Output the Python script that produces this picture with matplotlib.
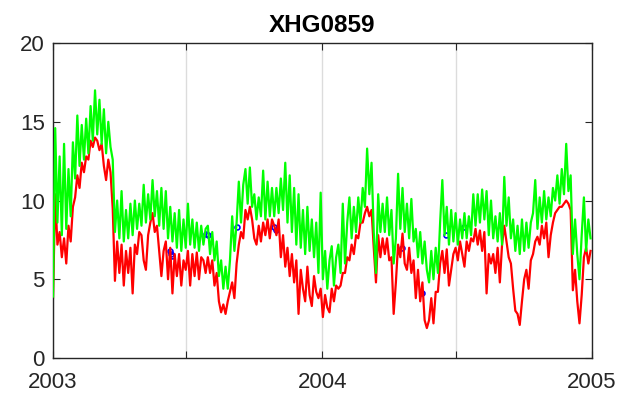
import numpy as np
import pandas as pd
import matplotlib
matplotlib.use('Agg')
import matplotlib.pyplot as plt

green = [3.9, 14.6, 8.6, 12.8, 7.8, 13.6, 8.2, 12.0, 9.0, 13.7,
         11.4, 15.4, 12.2, 14.8, 12.6, 15.2, 13.0, 16.0, 13.8, 17.0,
         14.2, 16.4, 13.6, 15.8, 13.0, 15.0, 13.4, 12.6, 8.0, 10.0,
         7.6, 10.6, 7.4, 9.4, 7.6, 9.8, 7.8, 10.0, 8.2, 9.8,
         8.4, 11.0, 8.6, 10.4, 8.8, 11.3, 9.0, 10.6, 8.4, 10.8,
         8.2, 10.6, 7.6, 9.6, 7.4, 9.2, 7.0, 9.4, 6.8, 8.8,
         7.0, 9.8, 7.2, 8.8, 7.0, 8.6, 6.8, 8.4, 7.2, 8.2,
         8.4, 6.6, 8.0, 6.2, 7.4, 5.2, 6.2, 4.4, 5.8, 4.4,
         6.2, 9.0, 6.8, 8.6, 11.2, 8.6, 11.0, 12.0, 9.8, 12.1,
         9.6, 10.4, 8.8, 10.2, 9.0, 11.9, 8.8, 11.2, 9.0, 10.8,
         9.0, 10.8, 9.2, 11.4, 9.4, 12.4, 8.6, 11.6, 8.0, 10.8,
         7.2, 10.4, 7.0, 9.4, 6.6, 9.6, 6.8, 8.8, 6.4, 8.6,
         5.4, 10.5, 5.0, 6.8, 4.4, 6.2, 7.1, 4.6, 6.4, 7.2,
         5.4, 9.8, 6.0, 8.6, 10.2, 7.6, 9.6, 8.0, 10.2, 8.6,
         10.8, 9.6, 13.3, 10.4, 12.4, 8.0, 5.4, 10.4, 8.0, 9.8,
         8.0, 10.2, 7.8, 9.4, 6.0, 7.6, 11.7, 8.2, 10.8, 8.0,
         9.8, 7.6, 10.1, 7.4, 8.2, 6.4, 8.0, 6.0, 7.4, 5.6,
         4.8, 6.8, 5.0, 7.0, 5.4, 8.6, 11.3, 7.8, 9.6, 7.2,
         9.4, 7.4, 9.2, 7.2, 8.8, 7.6, 9.2, 7.6, 9.0, 7.8,
         10.4, 8.4, 10.4, 8.6, 10.7, 8.8, 10.6, 7.8, 10.0, 7.6,
         9.0, 7.4, 9.2, 7.2, 11.5, 8.4, 10.2, 7.6, 8.8, 6.8,
         8.4, 6.6, 8.8, 6.8, 8.6, 7.0, 8.6, 9.2, 11.3, 8.2,
         10.2, 8.6, 10.6, 8.8, 10.2, 9.0, 10.8, 10.0, 11.6, 9.8,
         12.0, 10.4, 13.6, 10.6, 11.6, 6.6, 8.8, 6.6, 5.0, 7.8,
         10.2, 6.8, 8.8, 7.6]

red = [3.8, 10.4, 7.2, 8.0, 6.4, 7.6, 6.0, 8.4, 7.4, 9.6,
       10.2, 11.6, 10.8, 12.4, 11.8, 12.8, 12.6, 13.8, 13.4, 14.0,
       13.8, 13.2, 13.6, 12.2, 11.3, 12.6, 11.8, 9.5, 4.9, 7.4,
       5.4, 7.2, 4.6, 6.8, 5.4, 7.0, 4.1, 7.2, 6.6, 8.0,
       7.8, 6.2, 5.6, 7.8, 8.6, 9.2, 8.0, 8.4, 6.8, 5.2,
       6.8, 7.4, 5.0, 7.0, 4.1, 6.6, 5.2, 6.6, 4.6, 6.2,
       5.6, 6.8, 4.6, 6.6, 5.2, 6.7, 5.0, 6.4, 6.2, 5.4,
       6.4, 5.4, 6.2, 4.6, 5.4, 3.6, 2.9, 3.4, 2.8, 3.6,
       4.2, 4.8, 3.8, 6.0, 7.2, 8.0, 7.6, 9.4, 8.8, 9.6,
       8.8, 7.6, 7.2, 8.4, 7.4, 8.6, 7.8, 8.8, 7.6, 8.8,
       8.4, 7.8, 8.8, 6.4, 7.8, 5.8, 7.0, 5.2, 6.6, 4.8,
       6.2, 2.8, 5.6, 4.4, 3.6, 5.8, 4.0, 3.3, 5.2, 4.2,
       3.8, 4.4, 2.6, 4.0, 3.2, 2.9, 4.4, 3.6, 4.6, 4.4,
       4.6, 5.4, 5.4, 6.4, 6.2, 7.2, 6.6, 7.8, 7.6, 8.6,
       8.6, 9.2, 9.6, 9.0, 9.4, 7.0, 4.8, 7.8, 6.4, 7.6,
       6.6, 7.6, 6.2, 6.4, 2.8, 4.8, 7.2, 6.4, 7.9, 6.0,
       5.6, 7.0, 5.4, 6.2, 3.8, 5.6, 3.6, 4.8, 2.4, 1.9,
       2.4, 3.8, 2.2, 4.2, 4.2, 6.0, 6.8, 5.4, 6.9, 4.6,
       5.6, 6.6, 7.0, 6.2, 7.4, 6.6, 5.8, 7.4, 6.8, 7.6,
       7.4, 8.2, 7.2, 8.1, 6.8, 8.0, 4.1, 6.6, 6.0, 6.6,
       5.4, 7.0, 4.8, 7.2, 8.4, 7.4, 6.4, 6.0, 4.4, 3.0,
       2.8, 2.1, 3.6, 5.0, 5.6, 4.4, 6.2, 6.6, 7.4, 7.7,
       7.2, 8.4, 7.6, 8.6, 6.4, 7.8, 8.6, 9.2, 9.4, 9.6,
       9.6, 9.8, 10.0, 9.8, 9.4, 4.3, 5.6, 3.6, 2.2, 4.0,
       6.4, 7.0, 6.0, 6.8]

# sparse observations (day offset from 2003-01-01)
blue_days = [158, 160, 162, 208, 210, 249, 300, 302, 473, 500, 533, 557]
blue_vals = [6.8, 6.6, 6.5, 7.9, 7.8, 8.3, 8.3, 8.1, 7.0, 4.1, 7.8, 8.3]

start = pd.Timestamp('2003-01-01')
dates = pd.date_range(start, periods=len(green), freq='3D')
bdates = [start + pd.Timedelta(days=d) for d in blue_days]

plt.rcParams['font.family'] = ['Liberation Sans', 'DejaVu Sans']

fig = plt.figure(figsize=(6.22, 3.99), dpi=100)
ax = fig.add_axes([0.0852, 0.1028, 0.8666, 0.7892])

ax.plot(bdates, blue_vals, 'o', color='blue', markersize=3.5, markerfacecolor='none',
        markeredgewidth=1.2, zorder=1)
ax.plot(dates, red, color='red', linewidth=1.6, zorder=2)
ax.plot(dates, green, color='#00ff00', linewidth=1.6, zorder=3)

ticks = [pd.Timestamp(s) for s in ['2003-01-01', '2003-07-01', '2004-01-01', '2004-07-01', '2005-01-01']]
labels = ['2003', '', '2004', '', '2005']
ax.set_xticks(ticks)
ax.set_xticklabels(labels)
ax.set_xlim(ticks[0], ticks[-1])
ax.set_ylim(0, 20)
ax.set_yticks([0, 5, 10, 15, 20])

ax.grid(axis='x', color='#dcdcdc', linewidth=1)
ax.set_axisbelow(True)
for s in ax.spines.values():
    s.set_color('#262626')
    s.set_linewidth(1)
ax.tick_params(direction='in', length=5, top=True, right=True, colors='#262626',
               labelsize=16, pad=6)
ax.tick_params(axis='x', pad=10)

ax.set_title('XHG0859', fontsize=17.5, fontweight='bold', pad=8)

fig.savefig('out.png', dpi=100)
